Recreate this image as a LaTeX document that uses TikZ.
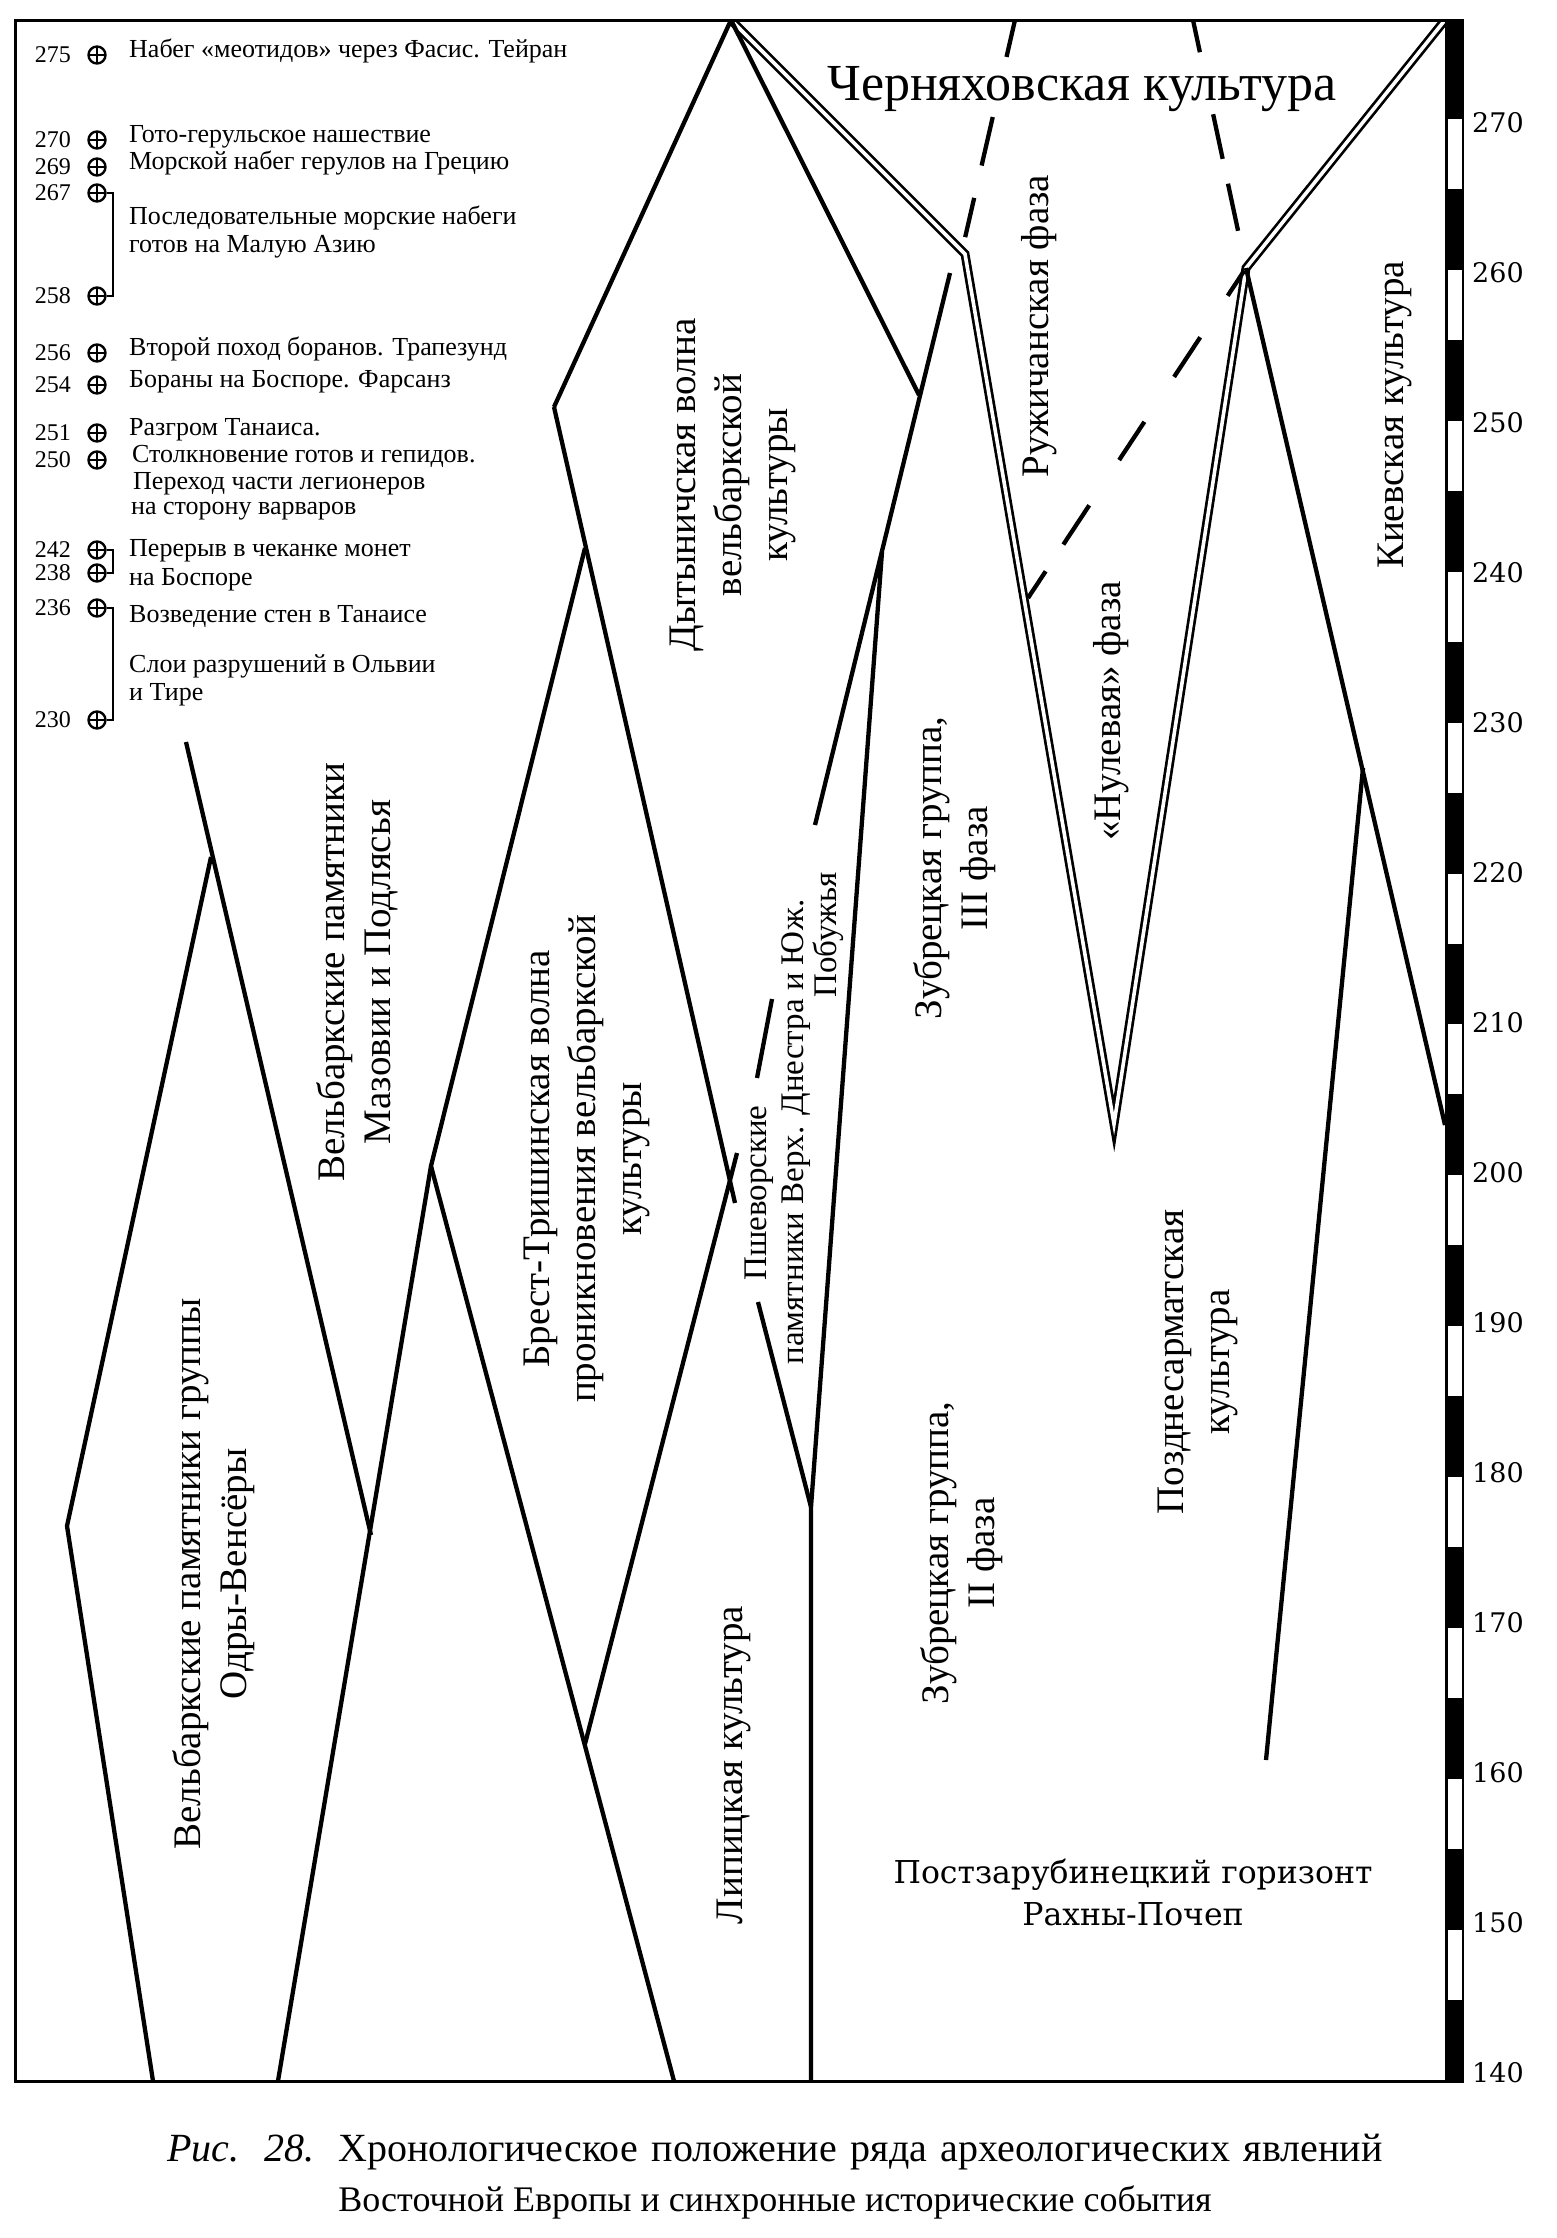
\documentclass[tikz,border=0pt]{standalone}
\usepackage{fontspec}
\setmainfont{Liberation Serif}
\newfontfamily\dvs{DejaVu Serif}
\usetikzlibrary{calc}
\begin{document}
\begin{tikzpicture}[x=1pt,y=-1pt,
  ln/.style={line width=4.3pt},
  frm/.style={line width=3pt},
  dbl/.style={double, double distance=3.6pt, line width=2.7pt},
  lbl/.style={rotate=90, align=center, inner sep=0pt, font=\fontsize{39}{46}\selectfont},
  slbl/.style={rotate=90, inner sep=0pt, font=\fontsize{33}{35}\selectfont},
  evtxt/.style={anchor=mid west, inner sep=0pt, font=\fontsize{26}{28}\selectfont},
  num/.style={anchor=east, inner sep=0pt, font=\fontsize{24}{26}\selectfont},
  evc/.style={circle, draw, line width=2.4pt, minimum size=17pt, inner sep=0pt,
    path picture={\draw[line width=2.4pt] (path picture bounding box.north) -- (path picture bounding box.south)
      (path picture bounding box.west) -- (path picture bounding box.east);}},
  scl/.style={anchor=west, inner sep=0pt, font=\dvs\fontsize{27}{30}\selectfont},
  brk/.style={line width=2.4pt}
]
\useasboundingbox (0,0) rectangle (1556,2238);
\fill[white] (0,0) rectangle (1556,2238);

% ---------- key points ----------
\coordinate (TL) at (15,20);
\coordinate (TR) at (1445,20);
\coordinate (BL) at (15,2081);
\coordinate (BR) at (1445,2081);
\coordinate (dApex) at (731,20);
\coordinate (dLeft) at (554,407);
\coordinate (dRight) at (919,395);
\coordinate (aEnd) at (735,1203);
\coordinate (bStart) at (585,1744);
\coordinate (bEnd) at (737,1153);
\coordinate (oApex) at (211,857);
\coordinate (oLeft) at (67,1526);
\coordinate (oBot) at (153,2081);
\coordinate (s1Top) at (186,742);
\coordinate (s1Bot) at (371,1535);
\coordinate (brApex) at (585,548);
\coordinate (pmApex) at (431,1166);
\coordinate (pmBotL) at (278,2081);
\coordinate (pmBotR) at (674,2081);
\coordinate (cTop) at (950,273);
\coordinate (cBot) at (815,825);
\coordinate (dStart) at (882,552);
\coordinate (dBend) at (811,1507);
\coordinate (dBot) at (811,2081);
\coordinate (eTop) at (772,999);
\coordinate (eBot) at (757,1078);
\coordinate (fTop) at (758,1302);
\coordinate (bendL) at (965,254);
\coordinate (vBot) at (1114,1124);
\coordinate (bendR) at (1246,268);
\coordinate (ruzhB) at (1028,598);
\coordinate (chL) at (1015,20);
\coordinate (chLb) at (962,251);
\coordinate (chR) at (1193,20);
\coordinate (kievEnd) at (1445,1125);
\coordinate (pzTop) at (1363,768);
\coordinate (pzBot) at (1266,1760);

% ---------- diagram lines ----------
\begin{scope}
\clip (TL) rectangle (BR);
\draw[dbl] (dApex) -- (bendL) -- (vBot) -- (bendR) -- (TR);
\draw[ln] (oApex) -- (oLeft) -- (oBot);
\draw[ln] (s1Top) -- (s1Bot);
\draw[ln] (brApex) -- (pmApex) -- (pmBotL);
\draw[ln] (pmApex) -- (pmBotR);
\draw[ln] (dLeft) -- (dApex) -- (dRight);
\draw[ln] (dLeft) -- (aEnd);
\draw[ln] (bStart) -- (bEnd);
\draw[ln] (cTop) -- (cBot);
\draw[ln] (dStart) -- (dBend) -- (dBot);
\draw[ln] (eTop) -- (eBot);
\draw[ln] (fTop) -- (dBend);
\draw[ln] (bendR) -- (kievEnd);
\draw[ln] (pzTop) -- (pzBot);
% dashed lines
\foreach \a/\b in {0.008/0.084, 0.21/0.33, 0.466/0.582, 0.719/0.838, 0.919/1.0}
  \draw[ln] ($(bendR)!\a!(ruzhB)$) -- ($(bendR)!\b!(ruzhB)$);
\foreach \a/\b in {0/0.16, 0.42/0.63, 0.77/0.94}
  \draw[ln] ($(chL)!\a!(chLb)$) -- ($(chL)!\b!(chLb)$);
\foreach \a/\b in {0/0.13, 0.38/0.56, 0.66/0.85}
  \draw[ln] ($(chR)!\a!(bendR)$) -- ($(chR)!\b!(bendR)$);
\end{scope}

% ---------- frame and scale ----------
\draw[frm] (TR) -- (TL) -- (BL) -- (BR);
\fill (1445,18.5) rectangle (1464,2082.5);
\foreach \k in {0,...,12}
  \fill[white] (1447.5,{119+150.9*\k}) rectangle (1461.5,{189+150.9*\k});
\foreach \L in {270,260,...,140}
  \node[scl] (s\L) at (1472,{123+15*(270-\L)}) {\L};

% ---------- events ----------
\foreach \n/\y in {275/55, 270/140, 269/167, 267/193, 258/296, 256/353, 254/385,
                   251/433, 250/460, 242/550, 238/573, 236/608, 230/720} {
  \node[num] (n\n) at (71,\y) {\n};
  \node[evc] (c\n) at (97,\y) {};
}
\draw[brk] (c267.east) -- ++(6,0) |- (c258.east);
\draw[brk] (c242.east) -- ++(6,0) |- (c238.east);
\draw[brk] (c236.east) -- ++(6,0) |- (c230.east);

\node[evtxt] (t275) at (129,55) {Набег «меотидов» через Фасис. Тейран};
\node[evtxt] (t270) at (129,140) {Гото-герульское нашествие};
\node[evtxt] (t269) at (129,167) {Морской набег герулов на Грецию};
\node[evtxt] (t267a) at (129,222) {Последовательные морские набеги};
\node[evtxt] (t267b) at (129,250) {готов на Малую Азию};
\node[evtxt] (t256) at (129,353) {Второй поход боранов. Трапезунд};
\node[evtxt] (t254) at (129,385) {Бораны на Боспоре. Фарсанз};
\node[evtxt] (t251) at (129,433) {Разгром Танаиса.};
\node[evtxt] (t250a) at (132,460) {Столкновение готов и гепидов.};
\node[evtxt] (t250b) at (133,487) {Переход части легионеров};
\node[evtxt] (t250c) at (131,512) {на сторону варваров};
\node[evtxt] (t242a) at (129,554) {Перерыв в чеканке монет};
\node[evtxt] (t242b) at (129,583) {на Боспоре};
\node[evtxt] (t236a) at (129,620) {Возведение стен в Танаисе};
\node[evtxt] (t236b) at (129,670) {Слои разрушений в Ольвии};
\node[evtxt] (t236c) at (129,698) {и Тире};

% ---------- culture labels ----------
\node[lbl] (odry) at (214,1574) {Вельбаркские памятники группы\\Одры-Венсёры};
\node[lbl] (mazov) at (357,972) {Вельбаркские памятники\\Мазовии и Подлясья};
\node[lbl] (brest) at (587,1159) {Брест-Тришинская волна\\проникновения вельбаркской\\культуры};
\node[lbl] (dyt) at (733,485) {Дытыничская волна\\вельбаркской\\культуры};
\node[slbl] (pshA) at (759,1193) {Пшеворские};
\node[slbl] (pshB) at (796,1132) {памятники Верх. Днестра и Юж.};
\node[slbl] (pshC) at (828,935) {Побужья};
\node[lbl] (lip) at (734,1765) {Липицкая культура};
\node[lbl] (zub3) at (955,868) {Зубрецкая группа,\\III фаза};
\node[lbl] (zub2) at (962,1553) {Зубрецкая группа,\\II фаза};
\node[lbl] (pozd) at (1198,1362) {Позднесарматская\\культура};
\node[lbl] (nul) at (1111,711) {«Нулевая» фаза};
\node[lbl] (ruzh) at (1039,326) {Ружичанская фаза};
\node[lbl] (kiev) at (1395,415) {Киевская культура};
\node[align=center, inner sep=0pt, font=\dvs\fontsize{31.5}{42}\selectfont] (post) at (1133,1892)
  {Постзарубинецкий горизонт\\Рахны-Почеп};
\node[anchor=base, inner sep=0pt, font=\fontsize{52}{60}\selectfont] (chern) at (1082,100)
  {Черняховская культура};

% ---------- caption ----------
\node[anchor=base, inner sep=0pt, font=\fontsize{40}{50}\selectfont] (cap1) at (775,2161)
  {\makebox[1215pt][s]{\textit{Рис. 28.} Хронологическое положение ряда археологических явлений}};
\node[anchor=base, inner sep=0pt, font=\fontsize{36}{50}\selectfont] (cap2) at (775,2211)
  {Восточной Европы и синхронные исторические события};
\end{tikzpicture}
\end{document}
